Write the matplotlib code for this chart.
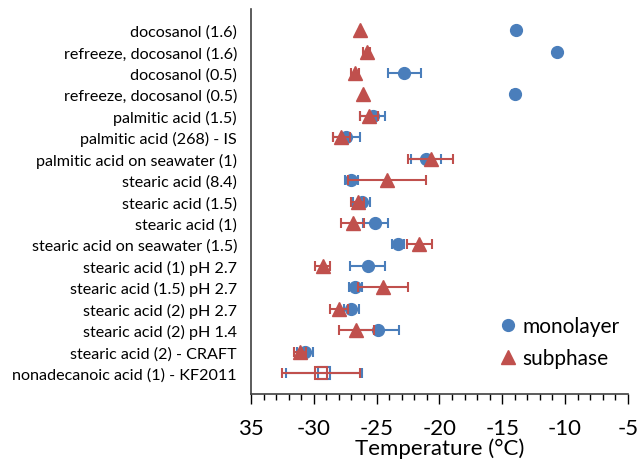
import numpy as np
import matplotlib
matplotlib.use("Agg")
import matplotlib.pyplot as plt
from matplotlib.ticker import MultipleLocator
from matplotlib.lines import Line2D

plt.rcParams['font.family'] = ['Lato', 'DejaVu Sans']

# samples (top to bottom)
labels = ["docosanol (1.6)", "refreeze, docosanol (1.6)", "docosanol (0.5)",
          "refreeze, docosanol (0.5)", "palmitic acid (1.5)", "palmitic acid (268) - IS",
          "palmitic acid on seawater (1)", "stearic acid (8.4)", "stearic acid (1.5)",
          "stearic acid (1)", "stearic acid on seawater (1.5)", "stearic acid (1) pH 2.7",
          "stearic acid (1.5) pH 2.7", "stearic acid (2) pH 2.7", "stearic acid (2) pH 1.4",
          "stearic acid (2) - CRAFT", "nonadecanoic acid (1) - KF2011"]

mono = [-13.9, -10.6, -22.8, -14.0, -25.3, -27.4, -21.1, -27.0, -26.2, -25.1,
        -23.3, -25.7, -26.7, -27.0, -24.9, -30.7, -29.2]
mono_err = [0, 0, 1.3, 0.2, 1.0, 1.1, 1.2, 0.5, 0.7, 1.0,
            0.5, 1.4, 0.5, 0.6, 1.7, 0.6, 3.0]
sub = [-26.3, -25.8, -26.7, -26.1, -25.6, -27.8, -20.7, -24.2, -26.5, -26.9,
       -21.6, -29.3, -24.5, -28.0, -26.6, -31.1, -29.4]
sub_err = [0, 0.3, 0.3, 0, 0.7, 0.7, 1.8, 3.1, 0.5, 0.9,
           1.0, 0.6, 2.0, 0.7, 1.4, 0.5, 3.1]

xticks = [-35, -30, -25, -20, -15, -10, -5]
xticklabels = ["35", "-30", "-25", "-20", "-15", "-10", "-5"]

blue = '#4A7EBB'
red = '#C0504D'

ypos = np.arange(len(labels))
n = len(labels) - 1  # last row drawn with open squares

fig = plt.figure(figsize=(6.38, 4.6), dpi=100)
ax = fig.add_axes([0.3934, 0.1413, 0.5906, 0.8367])

eb = dict(elinewidth=1.5, capsize=3.5, capthick=1.5)
ax.errorbar(mono[:n], ypos[:n], xerr=mono_err[:n], fmt='o', color=blue, ms=8.5,
            ecolor=blue, zorder=3, **eb)
ax.errorbar(sub[:n], ypos[:n], xerr=sub_err[:n], fmt='^', color=red, ms=9.5,
            ecolor=red, zorder=4, **eb)
ax.errorbar(mono[n], ypos[n], xerr=mono_err[n], fmt='s', mfc='none', mec=blue, mew=1.5,
            ms=9, ecolor=blue, zorder=3, **eb)
ax.errorbar(sub[n], ypos[n], xerr=sub_err[n], fmt='s', mfc='none', mec=red, mew=1.5,
            ms=9, ecolor=red, zorder=4, **eb)

ax.set_xlim(-35, -5)
ax.set_ylim(len(labels) - 0.02, -0.98)
ax.set_yticks(ypos)
ax.set_yticklabels(labels, fontsize=11.6)
ax.tick_params(axis='y', length=0, pad=10)
ax.set_xticks(xticks)
ax.set_xticklabels(xticklabels, fontsize=16)
ax.xaxis.set_minor_locator(MultipleLocator(1))
ax.tick_params(axis='x', which='major', length=7, width=1, direction='out', pad=10)
ax.tick_params(axis='x', which='minor', length=4, width=1, direction='out')
ax.set_xlabel('Temperature (°C)', fontsize=16, labelpad=0)

for s in ['top', 'right']:
    ax.spines[s].set_visible(False)
for s in ['left', 'bottom']:
    ax.spines[s].set_color('#404040')
    ax.spines[s].set_linewidth(1.2)

handles = [Line2D([], [], ls='none', marker='o', color=blue, ms=8.5),
           Line2D([], [], ls='none', marker='^', color=red, ms=9.5)]
ax.legend(handles, ['monolayer', 'subphase'], loc='upper left',
          bbox_to_anchor=(0.75, 0.352), bbox_transform=fig.transFigure,
          frameon=False, fontsize=15, handletextpad=0.2, labelspacing=0.6,
          handlelength=1.0)

fig.savefig('out.png', dpi=100)
